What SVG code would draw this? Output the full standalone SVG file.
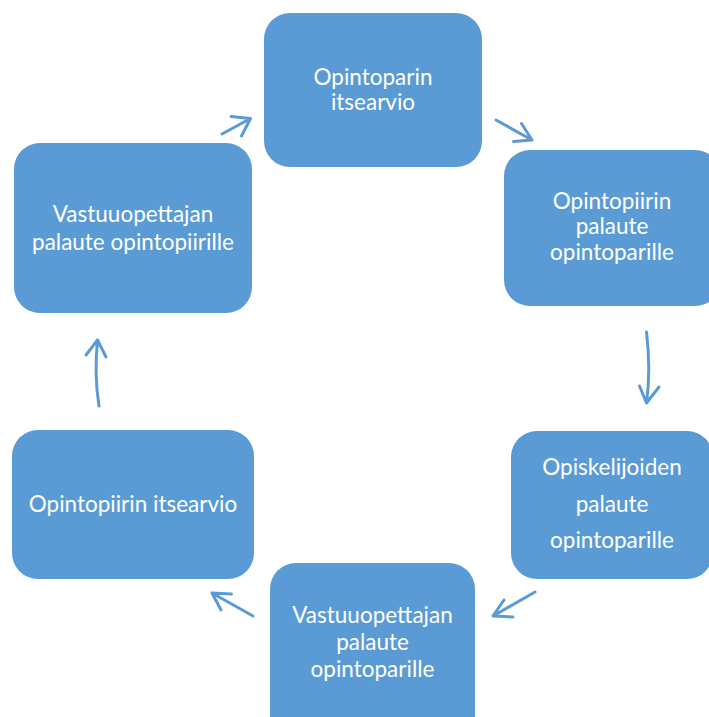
<svg xmlns="http://www.w3.org/2000/svg" width="709" height="717" viewBox="0 0 709 717">
<style>
.box{fill:#5B9BD5;}
.lbl{font-family:Lato,"Open Sans","Liberation Sans",sans-serif;font-size:22.5px;fill:#FFFFFF;text-anchor:middle;}
.arr{fill:none;stroke:#5B9BD5;stroke-width:3;stroke-linecap:round;stroke-linejoin:round;}
</style>
<rect width="709" height="717" fill="#FFFFFF"/>
<g id="connectors">
<path class="arr" d="M222,134 L250.5,118.5 M231,116.5 L250.5,118.5 L241.5,136"/>
<path class="arr" d="M496,120 L532,140 M521.5,123.5 L532,140 L513.5,141.5"/>
<path class="arr" d="M646.5,332 Q651,370 646.5,403 M639.5,386 L646.5,403 L659,387"/>
<path class="arr" d="M535,592 L493,616 M504,600 L493,616 L513,617"/>
<path class="arr" d="M253,616 L212,593 M231.5,594 L212,593 L221,610"/>
<path class="arr" d="M99,406 Q94,375 97.5,340 M86,355 L97.5,340 L106,357"/>
</g>
<g id="node1">
<rect class="box" x="264" y="13" width="218" height="154" rx="26"/>
<text class="lbl" x="373" y="85">Opintoparin</text>
<text class="lbl" x="373" y="110">itsearvio</text>
</g>
<g id="node2">
<rect class="box" x="504" y="150" width="217" height="156" rx="26"/>
<text class="lbl" x="612" y="209">Opintopiirin</text>
<text class="lbl" x="612" y="234">palaute</text>
<text class="lbl" x="612" y="260">opintoparille</text>
</g>
<g id="node3">
<rect class="box" x="511" y="431" width="202" height="148" rx="26"/>
<text class="lbl" x="612" y="475">Opiskelijoiden</text>
<text class="lbl" x="612" y="512">palaute</text>
<text class="lbl" x="612" y="548">opintoparille</text>
</g>
<g id="node4">
<rect class="box" x="270" y="563" width="205" height="180" rx="26"/>
<text class="lbl" x="372.5" y="623">Vastuuopettajan</text>
<text class="lbl" x="372.5" y="650">palaute</text>
<text class="lbl" x="372.5" y="677">opintoparille</text>
</g>
<g id="node5">
<rect class="box" x="12" y="430" width="242" height="149" rx="26"/>
<text class="lbl" x="133" y="512">Opintopiirin itsearvio</text>
</g>
<g id="node6">
<rect class="box" x="14" y="143" width="238" height="170" rx="26"/>
<text class="lbl" x="133" y="222">Vastuuopettajan</text>
<text class="lbl" x="133" y="250">palaute opintopiirille</text>
</g>
</svg>
